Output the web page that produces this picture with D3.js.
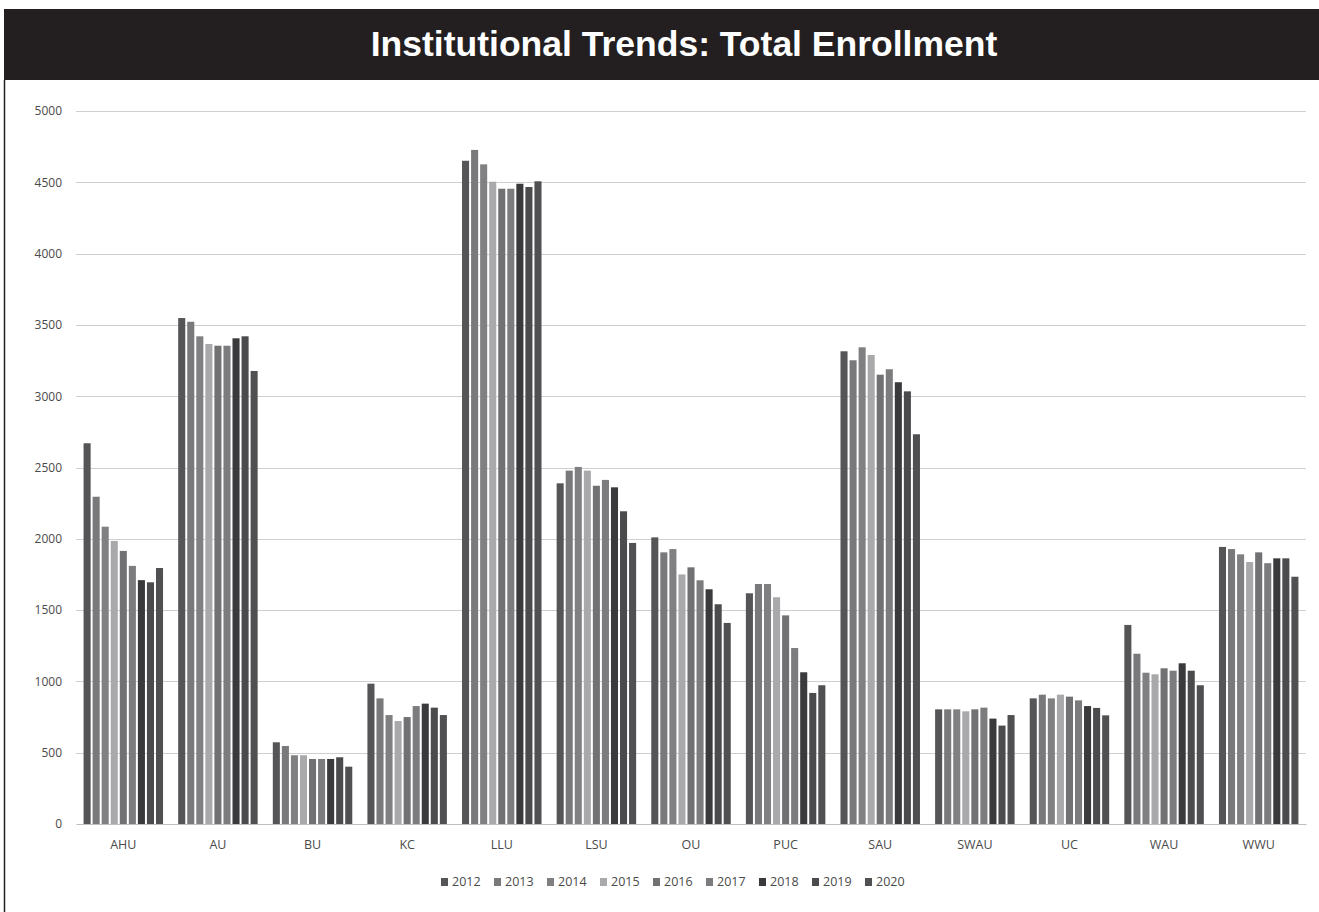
<!DOCTYPE html>
<html>
<head>
<meta charset="utf-8">
<script src="https://cdn.jsdelivr.net/npm/d3@7"></script>
<style>
  body { margin: 0; background: #fff; }
  svg { display: block; }
</style>
</head>
<body>
<svg id="chart" width="1319" height="912"></svg>
<script>
const schools = ["AHU", "AU", "BU", "KC", "LLU", "LSU", "OU", "PUC", "SAU", "SWAU", "UC", "WAU", "WWU"];
const years = ["2012", "2013", "2014", "2015", "2016", "2017", "2018", "2019", "2020"];
const yearColors = ["#555557", "#79797b", "#808082", "#a9a9ab", "#717173", "#7c7c7e", "#3a3a3c", "#4b4b4d", "#505052"];

// one array per school, 2012 .. 2020
const AHU = [2670, 2295, 2085, 1985, 1915, 1810, 1710, 1695, 1795];
const AU = [3548, 3522, 3420, 3366, 3354, 3354, 3406, 3420, 3177];
const BU = [573, 547, 482, 482, 456, 456, 456, 468, 402];
const KC = [984, 881, 764, 722, 750, 827, 844, 816, 764];
const LLU = [4651, 4727, 4626, 4504, 4455, 4455, 4490, 4467, 4507];
const LSU = [2389, 2478, 2504, 2478, 2372, 2413, 2361, 2193, 1971];
const OU = [2010, 1905, 1928, 1750, 1800, 1709, 1646, 1541, 1410];
const PUC = [1618, 1683, 1683, 1590, 1463, 1234, 1064, 919, 973];
const SAU = [3315, 3252, 3343, 3289, 3151, 3189, 3098, 3034, 2733];
const SWAU = [804, 804, 804, 790, 804, 816, 739, 690, 764];
const UC = [881, 907, 881, 907, 893, 867, 827, 814, 762];
const WAU = [1396, 1194, 1061, 1050, 1092, 1075, 1127, 1075, 973];
const WWU = [1943, 1928, 1891, 1837, 1905, 1829, 1863, 1863, 1734];
const enrollment = [AHU, AU, BU, KC, LLU, LSU, OU, PUC, SAU, SWAU, UC, WAU, WWU];
const yTicks = [0, 500, 1000, 1500, 2000, 2500, 3000, 3500, 4000, 4500, 5000];

const svg = d3.select("#chart");
const width = 1319, height = 912;
const margin = { top: 111, right: 13, bottom: 88, left: 76 };

// title bar and frame
svg.append("rect")
  .attr("x", 4).attr("y", 9)
  .attr("width", width - 4).attr("height", 71)
  .attr("fill", "#231f20");
svg.append("line")
  .attr("x1", 4.5).attr("x2", 4.5)
  .attr("y1", 80).attr("y2", height)
  .attr("stroke", "#231f20").attr("stroke-width", 1.5);
svg.append("text")
  .attr("x", 684).attr("y", 56)
  .attr("text-anchor", "middle")
  .attr("fill", "#fff")
  .style("font-family", "'Liberation Sans', Arial, sans-serif")
  .style("font-weight", "bold")
  .style("font-size", "35.5px")
  .text("Institutional Trends: Total Enrollment");

const x0 = d3.scaleBand()
  .domain(schools)
  .range([margin.left, width - margin.right])
  .paddingInner(0.16)
  .paddingOuter(0.08);

const x1 = d3.scaleBand()
  .domain(years)
  .range([0, x0.bandwidth()])
  .paddingInner(0.22);

const y = d3.scaleLinear()
  .domain([0, 5000])
  .range([height - margin.bottom, margin.top]);

const color = d3.scaleOrdinal().domain(years).range(yearColors);

// gridlines
svg.append("g")
  .selectAll("line")
  .data(yTicks.slice(1))
  .join("line")
  .attr("x1", margin.left).attr("x2", width - margin.right)
  .attr("y1", d => Math.round(y(d)) + 0.5).attr("y2", d => Math.round(y(d)) + 0.5)
  .attr("stroke", "#cfcfd1");

// y axis labels
const yAxis = svg.append("g")
  .attr("transform", `translate(${margin.left - 14},0)`)
  .call(d3.axisLeft(y).tickValues(yTicks).tickFormat(d3.format("d")).tickSize(0).tickPadding(0));
yAxis.select(".domain").remove();
yAxis.selectAll("text")
  .attr("fill", "#4a4a4a")
  .style("font-family", "'Open Sans', sans-serif")
  .style("font-size", "12px");

// bars
svg.append("g")
  .selectAll("g")
  .data(schools)
  .join("g")
  .attr("transform", d => `translate(${x0(d)},0)`)
  .selectAll("rect")
  .data((d, i) => years.map((yr, j) => ({ year: yr, value: enrollment[i][j] })))
  .join("rect")
  .attr("x", d => x1(d.year))
  .attr("y", d => y(d.value))
  .attr("width", x1.bandwidth())
  .attr("height", d => y(0) - y(d.value))
  .attr("fill", d => color(d.year));

// x axis
const xAxis = svg.append("g")
  .attr("transform", `translate(0,${height - margin.bottom})`)
  .call(d3.axisBottom(x0).tickSize(0).tickPadding(16));
xAxis.select(".domain").attr("stroke", "#bdbdbf");
xAxis.selectAll("text")
  .attr("fill", "#4a4a4a")
  .style("font-family", "'Open Sans', sans-serif")
  .style("font-size", "12.5px");

// legend
const legendItemW = 53;
const legendX = 441;
const legend = svg.append("g")
  .attr("transform", `translate(${legendX},882)`)
  .selectAll("g")
  .data(years)
  .join("g")
  .attr("transform", (d, i) => `translate(${i * legendItemW},0)`);
legend.append("rect")
  .attr("x", 0).attr("y", -4)
  .attr("width", 7).attr("height", 8)
  .attr("fill", d => color(d));
legend.append("text")
  .attr("x", 11).attr("y", 0)
  .attr("dy", "0.35em")
  .attr("fill", "#4a4a4a")
  .style("font-family", "'Open Sans', sans-serif")
  .style("font-size", "12.5px")
  .text(d => d);
</script>
</body>
</html>
